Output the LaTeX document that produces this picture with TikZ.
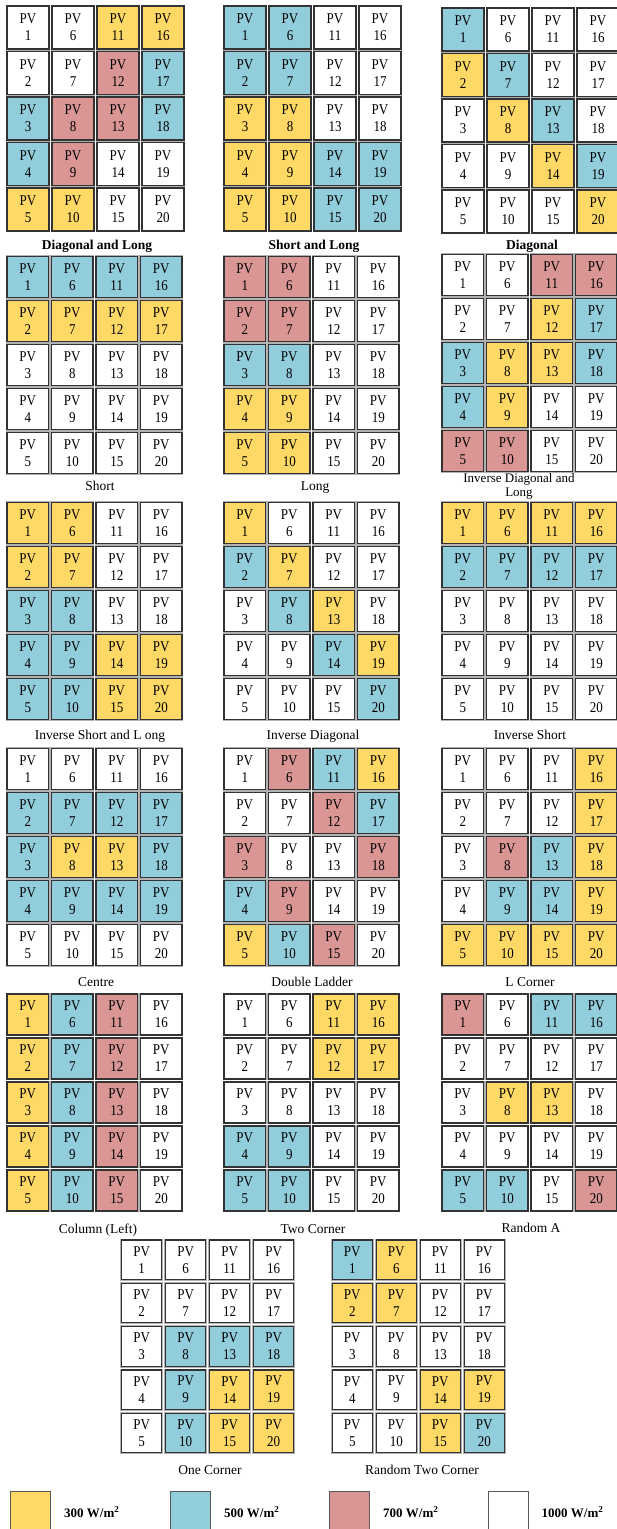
\documentclass[tikz,border=0pt]{standalone}
\usepackage{fontspec}
\usepackage{graphicx}
\setmainfont{Liberation Serif}
\definecolor{pvY}{RGB}{255,217,102}
\definecolor{pvB}{RGB}{146,205,220}
\definecolor{pvR}{RGB}{218,150,148}
\definecolor{pvW}{RGB}{255,255,255}
\tikzset{
  pvcell/.style={draw=black!80, line width=1.2pt, preaction={draw=black!30, line width=2.8pt},
    inner sep=0pt, align=center, font=\fontsize{13}{17}\selectfont},
  gridlabel/.style={font=\fontsize{13.5}{16}\selectfont, align=center, inner sep=0pt, anchor=base},
  boldlabel/.style={font=\fontsize{13.5}{16}\selectfont\bfseries, inner sep=0pt, anchor=base},
  legendbox/.style={draw=black!65, line width=0.8pt, minimum width=40pt, minimum height=40pt, anchor=north west, inner sep=0pt},
  legendlabel/.style={font=\fontsize{13}{15}\selectfont\bfseries, anchor=west, inner sep=0pt}
}
\newcommand{\pvtxt}[1]{\scalebox{1}[1.15]{#1}}
% name, x0, y0, pitch x, pitch y, cell w, cell h, colours (PV1..PV20)
\newcommand{\pvgrid}[8]{%
  \foreach \pvc [count=\pvn] in {#8} {
    \pgfmathtruncatemacro{\pvcol}{(\pvn-1)/5}
    \pgfmathtruncatemacro{\pvrow}{mod(\pvn-1,5)}
    \node[pvcell, fill=pv\pvc, minimum width=#6pt, minimum height=#7pt]
      (#1-\pvn) at ({#2+\pvcol*#4+#6/2},{#3+\pvrow*#5+#7/2}) {\pvtxt{PV}\\\pvtxt{\pvn}};
  }
}
\begin{document}
\begin{tikzpicture}[x=1pt,y=-1pt]
\useasboundingbox (0,0) rectangle (616,1529);
\fill[white] (0,0) rectangle (616,1529);

% Row 1
\pvgrid{g1}{7}{6}{45}{45.5}{42}{43}{W,W,B,B,Y, W,W,R,R,Y, Y,R,R,W,W, Y,B,B,W,W}
\pvgrid{g2}{224}{6}{45}{45.5}{42}{43}{B,B,Y,Y,Y, B,B,Y,Y,Y, W,W,W,B,B, W,W,W,B,B}
\pvgrid{g3}{442}{8}{45}{45.5}{42}{43}{B,Y,W,W,W, W,B,Y,W,W, W,W,B,Y,W, W,W,W,B,Y}
\node[boldlabel] (l1) at (97,249.5) {Diagonal and Long};
\node[boldlabel] (l2) at (314,249.5) {Short and Long};
\node[boldlabel] (l3) at (532,249.5) {Diagonal};

% Row 2
\pvgrid{g4}{7}{256.7}{44.5}{44}{41.5}{41}{B,Y,W,W,W, B,Y,W,W,W, B,Y,W,W,W, B,Y,W,W,W}
\pvgrid{g5}{224}{256.7}{44.5}{44}{41.5}{41}{R,R,B,Y,Y, R,R,B,Y,Y, W,W,W,W,W, W,W,W,W,W}
\pvgrid{g6}{442}{254.7}{44.5}{44}{41.5}{41}{W,W,B,B,R, W,W,Y,Y,R, R,Y,Y,W,W, R,B,B,W,W}
\node[gridlabel] (l4) at (100,490.5) {Short};
\node[gridlabel] (l5) at (315,490.5) {Long};
\node[gridlabel, anchor=center, font=\fontsize{13}{14.5}\selectfont] (l6) at (519,486.5) {Inverse Diagonal and\\Long};

% Row 3
\pvgrid{g7}{7}{502.5}{44.5}{44}{41.5}{41}{Y,Y,B,B,B, Y,Y,B,B,B, W,W,W,Y,Y, W,W,W,Y,Y}
\pvgrid{g8}{224}{502.5}{44.5}{44}{41.5}{41}{Y,B,W,W,W, W,Y,B,W,W, W,W,Y,B,W, W,W,W,Y,B}
\pvgrid{g9}{442}{502.5}{44.5}{44}{41.5}{41}{Y,B,W,W,W, Y,B,W,W,W, Y,B,W,W,W, Y,B,W,W,W}
\node[gridlabel] (l7) at (100,739.5) {Inverse Short and L ong};
\node[gridlabel] (l8) at (313,739.5) {Inverse Diagonal};
\node[gridlabel] (l9) at (530,739.5) {Inverse Short};

% Row 4
\pvgrid{g10}{7}{748.3}{44.5}{44}{41.5}{41}{W,B,B,B,W, W,B,Y,B,W, W,B,Y,B,W, W,B,B,B,W}
\pvgrid{g11}{224}{748.3}{44.5}{44}{41.5}{41}{W,W,R,B,Y, R,W,W,R,B, B,R,W,W,R, Y,B,R,W,W}
\pvgrid{g12}{442}{748.3}{44.5}{44}{41.5}{41}{W,W,W,W,Y, W,W,R,B,Y, W,W,B,B,Y, Y,Y,Y,Y,Y}
\node[gridlabel] (l10) at (96,986.5) {Centre};
\node[gridlabel] (l11) at (312,986.5) {Double Ladder};
\node[gridlabel] (l12) at (530,986.5) {L Corner};

% Row 5
\pvgrid{g13}{7}{994}{44.5}{44}{41.5}{41}{Y,Y,Y,Y,Y, B,B,B,B,B, R,R,R,R,R, W,W,W,W,W}
\pvgrid{g14}{224}{994}{44.5}{44}{41.5}{41}{W,W,W,B,B, W,W,W,B,B, Y,Y,W,W,W, Y,Y,W,W,W}
\pvgrid{g15}{442}{994}{44.5}{44}{41.5}{41}{R,W,W,W,B, W,W,Y,W,B, B,W,Y,W,W, B,W,W,W,R}
\node[gridlabel] (l13) at (98,1233) {Column (Left)};
\node[gridlabel] (l14) at (313,1233) {Two Corner};
\node[gridlabel] (l15) at (531,1232) {Random A};

% Row 6
\pvgrid{g16}{121.7}{1240}{44}{43.3}{40}{39.5}{W,W,W,W,W, W,W,B,B,B, W,W,B,Y,Y, W,W,B,Y,Y}
\pvgrid{g17}{332.3}{1240}{44}{43.3}{40}{39.5}{B,Y,W,W,W, Y,Y,W,W,W, W,W,W,Y,Y, W,W,W,Y,B}
\node[gridlabel] (l16) at (210,1474.5) {One Corner};
\node[gridlabel] (l17) at (422,1474.5) {Random Two Corner};

% Legend
\node[legendbox, fill=pvY] (k1) at (10,1491) {};
\node[legendbox, fill=pvB] (k2) at (170,1491) {};
\node[legendbox, fill=pvR] (k3) at (329,1491) {};
\node[legendbox, fill=pvW] (k4) at (488,1491) {};
\node[legendlabel] (t1) at (64,1512) {300 W/m\textsuperscript{2}};
\node[legendlabel] (t2) at (224,1512) {500 W/m\textsuperscript{2}};
\node[legendlabel] (t3) at (383,1512) {700 W/m\textsuperscript{2}};
\node[legendlabel] (t4) at (541.5,1512) {1000 W/m\textsuperscript{2}};
\end{tikzpicture}
\end{document}
